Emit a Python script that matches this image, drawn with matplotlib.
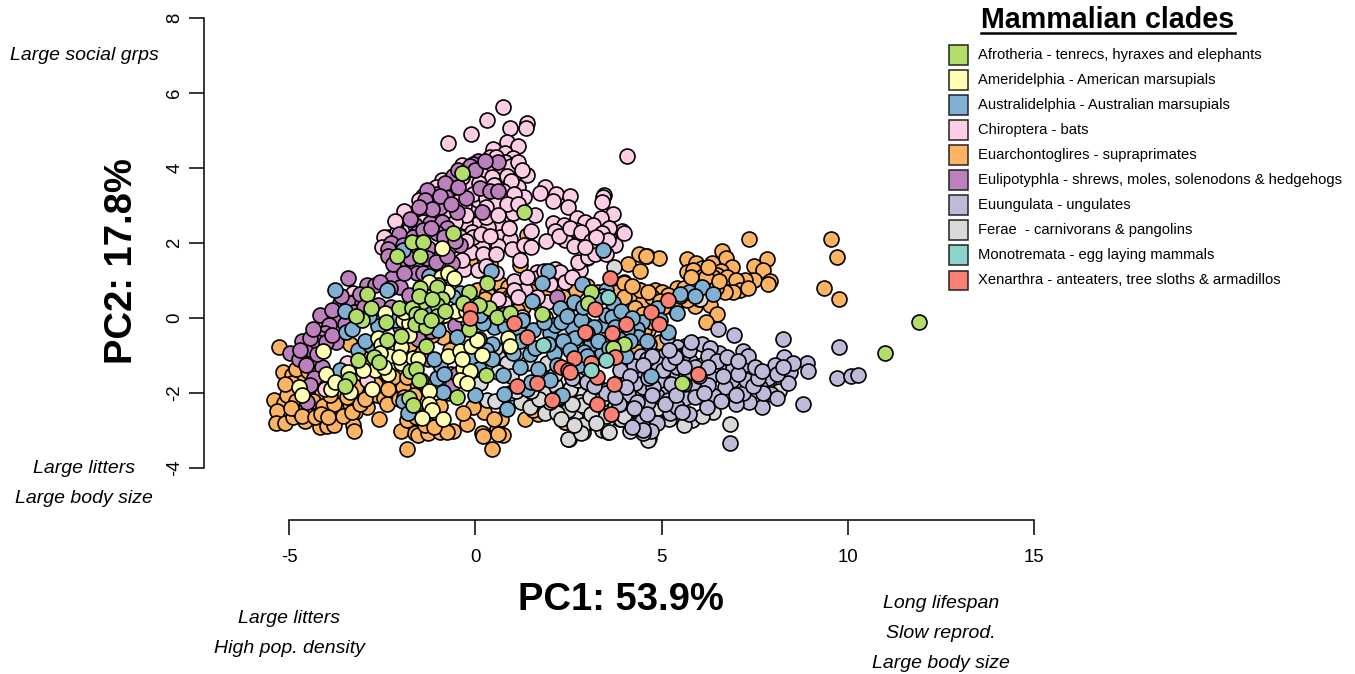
import numpy as np
import matplotlib
matplotlib.use("Agg")
import matplotlib.pyplot as plt
from matplotlib.patches import Rectangle

plt.rcParams["font.family"] = ["Liberation Sans", "DejaVu Sans"]
plt.rcParams["axes.unicode_minus"] = False

# --- Values (PC1, PC2) ---
euarchontoglires = [
    (7.36,2.10),(9.55,2.10),(9.72,1.62),(9.37,0.79),(9.76,0.52),(6.62,1.80),(7.84,1.58),(7.47,1.39),(6.72,1.59),(5.68,1.58),
    (5.93,1.46),(6.35,1.46),(6.88,1.37),(5.68,1.24),(6.08,1.34),(5.85,1.28),(6.12,1.12),(6.60,1.26),(6.48,1.15),(6.75,1.10),
    (6.39,1.10),(7.73,1.28),(7.47,1.01),(7.90,1.00),(7.87,0.92),(7.24,1.01),(6.99,1.01),(7.11,0.75),(7.33,0.79),(6.93,0.70),
    (6.70,0.70),(4.40,1.71),(4.60,1.66),(4.93,1.59),(4.09,1.44),(4.42,1.25),(3.99,0.95),(4.40,0.75),(4.83,0.75),(5.00,0.70),
    (5.41,0.81),(4.20,0.52),(4.51,0.45),(4.26,0.26),(3.93,0.28),(5.18,0.61),(5.90,0.32),(5.68,0.48),(6.30,0.35),(6.48,0.12),
    (6.19,-0.10),(4.74,0.57),(3.80,0.70),(2.50,0.97),(2.28,0.79),(4.16,-2.48),(4.38,-2.50),(2.41,-2.76),(4.51,-0.41),(4.65,-0.32),
    (4.29,-0.76),(1.38,2.21),(3.15,2.17),(4.58,1.66),(1.38,1.01),(2.23,0.79),(1.20,1.41),(-0.14,1.50),(0.39,1.46),(0.67,0.92),
    (0.89,0.84),(-5.26,-0.76),(-5.17,-1.43),(-5.40,-2.19),(-5.13,-2.26),(-5.33,-2.47),(-5.35,-2.81),(-5.11,-2.79),(-4.89,-2.63),(-4.58,-2.74),
    (-4.75,-2.45),(-4.44,-2.54),(-4.17,-2.90),(-4.03,-2.68),(-3.99,-2.88),(-3.80,-2.85),(-3.90,-2.41),(-3.63,-2.41),(-3.36,-2.30),(-2.91,-2.36),
    (-3.23,-2.50),(-3.29,-2.84),(-3.25,-3.01),(-2.59,-2.69),(-4.93,-1.52),(-4.71,-1.48),(-4.93,-1.74),(-5.06,-2.05),(-4.26,-2.19),(-4.12,-2.01),
    (-3.63,-2.10),(-3.08,-2.10),(-2.64,-2.05),(-2.46,-2.14),(-2.20,-1.79),(-1.71,-1.83),(-2.38,-2.28),(-1.98,-3.01),(-1.83,-3.48),(-1.62,-3.07),
    (-1.55,-3.12),(-1.26,-3.07),(-1.23,-2.79),(-0.90,-2.90),(-0.59,-3.01),(-0.23,-2.83),(0.17,-3.07),(0.22,-3.14),(0.46,-3.49),(0.58,-2.97),
    (0.74,-3.12),(0.69,-2.68),(0.23,-2.50),(-0.05,-2.36),(1.33,-2.69),(1.69,-2.56),(2.41,-2.76),(4.13,-2.45),(-1.84,-2.72),(-1.03,-2.54),
    (-1.57,-2.36),(-1.48,-2.10),(-1.93,-1.83),(-2.82,-1.56),(-4.62,-1.16),(-4.34,-1.08),(-0.86,-0.50),(-2.20,-1.56),(-1.84,-1.56),(0.04,0.75),
    (0.32,0.66),(0.71,0.61),(1.38,1.06),(2.23,1.24),(4.00,0.94),(4.42,0.75),(4.30,0.26),(4.52,-0.32),(1.29,0.30),(1.88,0.04),
    (1.11,0.21),(3.80,0.30),(-0.76,-2.01),(-0.32,-2.54),(-0.68,-0.85),
    (-4.80,-2.20),(-4.55,-2.35),(-4.35,-2.20),(-4.10,-2.35),(-3.80,-2.30),(-3.55,-2.60),(-3.30,-2.50),(-3.10,-2.30),(-4.95,-2.40),(-4.65,-2.60),
    (-4.30,-2.65),(-4.15,-2.55),(-3.95,-2.65),(-5.10,-1.75),(-4.80,-1.35),(-4.50,-1.40),(-3.90,-2.05),(-3.45,-2.10),(-3.20,-1.85),(-2.95,-2.15),
    (-2.70,-1.75),(-2.35,-1.90),(-2.05,-2.15),(-1.90,-2.10),(-1.65,-2.05),(-1.45,-1.65),(-1.60,-2.65),(-1.25,-2.45),(-0.95,-2.35),(-0.95,-3.05),
    (-0.75,-3.05),(-1.35,-2.85),(-1.10,-2.90),(0.50,-2.70),(0.60,-3.10),(1.55,-2.45),(2.10,-2.30),(2.75,-2.60),
    (0.90,0.55),(1.20,0.80),(1.60,0.75),(1.95,0.65),(2.35,0.55),(2.70,0.75),(3.00,0.85),(3.30,0.70),(4.00,0.55),(4.65,0.70),
    (4.20,0.85),(4.50,0.10),(4.95,0.45),(5.35,0.25),(5.60,0.80),(6.00,0.50),(6.45,0.80),(6.20,1.10),(6.55,1.00),(5.80,1.10),
    (6.25,1.35),(5.50,0.60),(5.05,0.30),(4.75,-0.10),(4.95,-0.65),(-0.35,-0.30),(0.25,0.50),(0.55,0.25),(1.75,0.35),(2.50,0.25),
    (3.85,-0.05),(-1.55,-0.85),(-1.75,-0.70),(-2.40,-1.50),(-2.90,-1.20),(-3.35,-0.70),(-3.00,-0.85),(-0.65,-1.50),(-1.15,-0.45),
]
ferae = [
    (3.73,1.37),(6.03,0.51),(6.84,-2.83),(2.53,-3.23),(2.92,-2.87),(2.88,-3.03),(3.39,-2.99),(3.57,-3.05),(4.15,-3.01),(4.67,-3.21),
    (3.89,-2.68),(3.53,-2.72),(2.54,-2.45),(2.68,-2.59),(2.95,-2.36),(5.81,-2.72),(6.39,-2.50),(5.05,-2.45),(3.62,-2.10),(3.17,-2.01),
    (2.82,-1.88),(2.54,-1.88),(2.82,-2.23),(8.09,-1.61),(0.62,-1.03),(0.85,-1.21),(0.31,-2.19),(0.53,-2.20),(1.24,-2.25),(1.46,-2.36),
    (1.87,-2.52),(2.50,-2.44),(2.19,-2.54),(2.90,-2.85),(2.50,-3.23),(2.85,-3.07),(3.60,-3.03),(3.90,-2.68),(2.14,-1.79),(2.55,-1.88),
    (2.86,-2.32),(3.26,-2.01),(1.83,-2.01),(0.93,-2.01),(0.53,-0.81),(-0.37,-0.32),(0.13,-1.74),(3.08,-2.10),(2.72,0.04),(3.52,-2.10),
    (4.64,-3.25),(3.17,-2.54),(1.38,-1.21),(1.92,-1.21),
    (3.40,-2.40),(3.10,-2.55),(3.50,-2.60),(2.25,-2.10),(2.60,-2.30),(2.00,-2.25),(1.70,-2.15),(1.50,-1.95),(1.10,-1.95),(0.60,-1.45),
    (0.30,-1.05),(0.95,-1.55),(1.75,-1.55),(2.15,-1.50),(2.75,-1.65),(3.30,-1.85),(2.30,-2.70),(2.65,-2.85),(3.25,-2.80),(3.75,-2.35),
    (4.00,-2.60),(4.30,-2.85),(5.50,-2.60),(5.60,-2.85),(6.10,-2.60),(5.20,-2.70),(4.90,-2.40),(2.95,-0.15),(2.40,-0.40),(3.40,-2.15),
    (8.25,-1.70),(8.15,-1.95),
]
euungulata = [
    (6.51,-0.29),(6.95,-0.45),(8.27,-0.55),(9.77,-0.77),(8.90,-1.21),(8.94,-1.40),(9.70,-1.59),(10.09,-1.54),(10.27,-1.52),(8.81,-2.28),
    (6.84,-3.34),(8.29,-1.05),(8.05,-1.25),(8.45,-1.45),(8.39,-1.72),(7.87,-1.59),(7.46,-1.49),(7.93,-2.03),(8.09,-2.14),(7.71,-2.36),
    (7.35,-2.23),(7.20,-1.99),(7.00,-2.30),(6.89,-1.64),(7.18,-1.25),(7.20,-0.87),(7.33,-1.01),(6.70,-1.15),(6.55,-0.94),(6.08,-0.70),
    (6.30,-0.81),(5.63,-0.75),(5.41,-0.76),(5.09,-0.99),(5.76,-1.14),(5.59,-0.99),(6.08,-1.25),(6.57,-1.39),(6.70,-1.83),(6.06,-1.95),
    (6.42,-2.07),(6.21,-2.36),(5.75,-2.57),(5.63,-2.14),(5.14,-1.92),(4.87,-2.08),(5.18,-2.19),(5.23,-2.52),(4.62,-2.23),(4.87,-2.79),
    (4.47,-2.75),(4.71,-3.00),(4.51,-3.06),(4.11,-2.03),(4.29,-1.72),(3.89,-2.29),(4.24,-1.27),(4.02,-1.25),(4.44,-1.01),(4.87,-1.21),
    (5.18,-1.37),(5.41,-1.52),(4.67,-0.69),(5.14,-0.50),(3.53,-1.92),(2.99,-1.70),(2.59,-1.61),(4.51,-1.83),(4.96,-1.65),(7.28,-1.65),
    (7.64,-1.83),(6.30,-1.56),(5.85,-1.74),(7.73,-2.01),(8.54,-1.21),(4.78,-1.83),(5.41,-2.36),(6.93,-1.34),(5.41,-1.30),(4.60,-1.08),
    (6.26,-1.79),(4.42,-1.48),(5.05,-1.39),(5.67,-1.48),(4.26,-1.28),(3.88,-1.39),(4.30,-1.72),(4.11,-2.03),(3.87,-2.30),(4.49,-2.99),
    (3.00,-1.70),(4.65,-2.23),(3.52,-2.00),
    (5.40,-1.00),(5.75,-0.85),(5.90,-1.30),(6.25,-1.00),(6.50,-1.15),(6.00,-1.55),(5.20,-1.20),(5.60,-1.30),(4.75,-1.00),(4.50,-1.25),
    (4.15,-1.55),(3.75,-1.75),(4.65,-1.60),(5.25,-1.75),(5.60,-1.75),(5.90,-2.10),(6.15,-2.00),(6.65,-1.55),(7.05,-1.50),(7.45,-1.80),
    (7.60,-1.60),(7.00,-2.05),(6.60,-2.20),(5.10,-2.30),(5.40,-2.05),(5.55,-2.50),(4.60,-2.55),(4.35,-2.25),(4.75,-2.05),(4.05,-1.85),
    (3.75,-2.10),(4.25,-2.40),(4.20,-2.90),(5.35,-1.05),(5.80,-0.65),(5.20,-0.85),(6.75,-1.05),(7.05,-1.15),(7.50,-1.30),(8.10,-1.50),
    (8.25,-1.30),(7.70,-1.40),(6.25,-1.30),(3.20,-1.80),
]
chiroptera = [
    (0.74,5.64),(0.31,5.28),(-0.12,4.92),(-0.72,4.68),(0.93,5.08),(1.38,5.21),(1.36,5.08),(4.08,4.33),(0.84,4.70),(1.14,4.59),
    (0.48,4.52),(0.80,4.39),(1.02,4.26),(0.40,4.30),(0.80,4.17),(0.35,3.99),(0.62,3.88),(1.07,3.86),(1.38,3.81),(-0.05,3.77),
    (0.31,3.70),(-0.88,3.68),(-0.36,4.08),(0.89,3.55),(1.14,3.50),(1.87,3.50),(1.74,3.34),(2.16,3.32),(2.08,3.13),(2.54,3.25),
    (2.49,2.95),(3.46,3.28),(3.42,3.24),(3.39,3.10),(1.32,3.24),(0.93,3.24),(0.49,2.95),(0.71,2.92),(1.02,2.79),(1.60,2.75),
    (-1.59,2.82),(-0.14,2.88),(3.69,2.77),(3.38,2.66),(2.72,2.66),(2.95,2.57),(2.08,2.54),(2.37,2.48),(3.17,2.48),(0.62,2.54),
    (0.04,2.52),(0.35,2.44),(-0.27,2.57),(2.70,2.35),(2.14,2.33),(1.50,2.33),(3.42,2.28),(3.78,2.28),(3.93,2.32),(3.58,2.39),
    (-0.10,2.30),(0.67,2.17),(0.93,2.11),(1.89,2.05),(2.41,2.08),(2.65,1.93),(0.17,1.90),(0.62,1.93),(0.99,1.83),(-0.12,1.75),
    (0.22,1.72),(0.55,1.71),(1.20,1.55),(3.75,1.95),(3.00,1.59),(2.79,1.48),(2.81,1.28),(-0.30,1.32),(0.08,1.28),(1.65,1.24),
    (2.32,1.15),(2.14,1.31),(1.04,0.99),(1.65,1.06),(-1.26,1.37),(-2.32,2.17),(-1.84,2.57),(-1.39,3.25),(0.08,3.15),(0.67,3.59),
    (-0.23,3.41),(-1.66,2.66),(-2.11,2.30),(-0.05,2.17),(-0.41,2.17),(0.98,0.57),(1.33,0.75),(1.92,0.44),(0.76,0.39),(1.25,0.04),
    (-3.27,0.66),(-2.91,-1.65),(-4.03,-1.88),(-3.45,-1.21),(2.77,1.50),(3.03,1.64),(3.39,2.28),(3.98,2.26),(3.57,2.08),(3.21,1.72),
    (2.28,1.24),
    (0.10,4.15),(0.25,4.05),(0.45,4.12),(0.55,4.30),(0.70,4.05),(0.95,4.05),(1.15,4.15),(1.25,3.95),(0.15,3.85),(0.45,3.75),
    (0.85,3.80),(0.95,3.65),(-0.20,3.60),(0.10,3.60),(0.50,3.55),(0.75,3.40),(1.05,3.30),(-0.60,3.60),(-0.35,3.75),(-0.75,3.40),
    (-1.05,3.50),(-0.50,3.30),(-0.05,3.30),(0.30,3.20),(0.55,3.10),(0.85,3.05),(1.15,3.05),(-1.50,3.15),(-1.25,3.30),(-1.00,3.10),
    (-0.70,3.00),(-0.30,3.00),(0.30,2.95),(-1.40,2.85),(-1.10,2.80),(-0.75,2.75),(-0.25,2.75),(0.30,2.70),(0.60,2.75),(-1.75,2.40),
    (-1.40,2.55),(-1.05,2.45),(-0.55,2.55),(0.15,2.25),(0.40,2.20),(-0.25,2.05),(-0.60,1.95),(0.90,2.40),(1.30,1.95),(1.50,1.90),
    (2.25,2.20),(2.55,2.40),(2.85,2.30),(3.10,2.05),(3.25,2.15),(2.95,1.90),(3.50,1.70),(-1.90,2.85),(-2.15,2.60),(-2.45,2.15),
    (-2.50,1.90),(-1.50,1.50),(-0.90,1.35),(-0.35,1.55),(0.30,1.40),(0.55,1.20),(1.40,1.10),(1.85,1.25),(2.00,0.90),(2.40,0.95),
    (2.60,1.10),(1.05,0.75),(1.65,0.55),(0.60,0.50),(1.15,0.55),
]
eulipotyphla = [
    (0.08,4.20),(0.62,4.17),(-0.59,3.79),(-0.63,3.46),(0.13,3.46),(0.39,3.39),(0.62,3.39),(-1.04,3.32),(-0.78,3.22),(-0.26,3.21),
    (-1.23,3.06),(-0.94,2.97),(-0.48,2.83),(0.17,2.83),(-1.21,2.54),(-1.61,2.48),(-0.90,2.57),(-0.77,2.39),(-2.05,2.23),(-2.26,2.00),
    (-2.33,1.83),(-0.41,1.95),(-0.92,1.72),(-1.26,1.86),(-1.91,1.44),(-1.57,1.35),(-0.63,1.46),(-2.24,1.06),(-3.41,1.06),(-1.57,2.26),
    (-1.04,2.26),(-1.66,2.17),(-0.05,4.12),(-1.30,3.41),(-2.91,0.88),(-2.69,0.88),(-2.02,0.84),(-4.16,0.08),(-3.73,0.04),(-3.93,-0.19),
    (-4.04,-0.41),(-4.18,-0.54),(-3.73,-0.63),(-4.66,-0.61),(-4.96,-0.94),(-4.72,-1.09),(-4.39,-0.85),(-4.12,-1.30),(-4.34,-1.59),(-4.43,-1.79),
    (-4.52,-2.25),(-3.27,0.44),(-3.63,0.39),(-1.26,-1.10),(-0.63,-1.79),(2.20,0.57),(-1.79,0.61),(-1.57,1.19),(-0.55,-0.19),(-2.02,-0.23),
    (-0.50,-1.48),(-1.30,0.12),(-3.85,0.21),(-3.36,0.39),(-3.05,0.39),(-4.26,-0.63),(-4.44,-0.54),
    (-0.15,4.05),(0.00,3.95),(0.25,4.18),(-0.45,3.95),(-0.80,3.60),(-0.45,3.50),(-0.95,3.25),(-1.35,3.15),(-1.15,2.90),(-0.65,3.05),
    (-1.50,2.95),(-1.75,2.65),(-1.40,2.35),(-1.20,2.40),(-0.85,2.15),(-0.55,2.05),(-1.95,1.95),(-2.35,1.65),(-2.20,1.45),(-1.75,1.60),
    (-1.30,1.60),(-1.05,1.50),(-0.75,1.65),(-1.40,1.20),(-1.90,1.20),(-2.55,0.95),(-2.30,0.80),(-1.20,0.65),(-3.10,0.65),(-3.60,0.60),
    (-3.25,0.15),(-3.50,-0.15),(-3.00,0.30),(-4.00,-0.65),(-4.55,-1.25),(-4.70,-0.85),(-4.35,-0.30),(-4.25,-0.95),(-3.85,-0.45),(-2.60,0.35),
    (-2.25,0.30),(-1.80,0.05),(-1.55,-0.55),(-1.20,-0.35),(-0.90,0.05),(-0.30,-1.00),
]
australidelphia = [
    (-1.93,1.81),(-1.24,1.12),(0.41,1.25),(1.94,1.25),(1.78,0.94),(3.42,1.81),(2.86,0.91),(-3.77,0.75),(-2.38,0.75),(-3.50,0.19),
    (-3.19,0.04),(-2.42,-0.14),(-3.48,-0.38),(-3.15,-0.85),(-2.83,-0.72),(-3.63,-1.39),(-1.93,-2.20),(-1.81,-2.54),(-0.86,-1.96),(-1.03,-1.61),
    (-0.94,-1.25),(-0.01,-2.05),(0.75,-1.52),(0.78,-2.03),(0.85,-2.43),(1.20,-1.30),(1.68,-1.36),(1.47,-0.96),(2.11,-0.92),(0.46,-0.68),
    (0.49,-0.23),(0.22,-0.14),(1.52,0.46),(2.27,0.26),(2.65,0.44),(3.52,0.75),(2.00,-0.41),(2.59,-0.23),(2.68,-0.54),(3.08,-0.66),
    (3.39,-0.90),(3.44,-0.19),(4.34,-0.32),(4.47,-0.10),(4.72,-1.55),(2.32,-2.05),(2.78,-1.25),(1.38,-1.88),(0.13,0.08),(3.52,0.08),
    (3.93,-0.05),(2.14,-0.19),(1.56,-0.32),(-0.41,0.66),(-1.26,0.84),(-0.99,-0.32),(-0.50,-0.50),(0.30,-0.85),(-0.05,-1.03),(1.02,-0.94),
    (5.74,0.70),(6.10,0.84),(6.37,0.64),(5.42,0.14),(5.18,-0.36),(4.87,0.26),(4.33,-0.30),(4.38,-0.50),(3.10,-0.68),(2.92,-0.90),
    (3.44,0.59),(3.71,0.39),(3.66,0.04),(4.07,-0.32),
    (0.80,-0.20),(1.15,-0.35),(1.85,-0.10),(2.30,-0.10),(2.45,0.05),(2.85,-0.05),(3.20,-0.25),(3.75,-0.25),(3.85,-0.55),(4.15,-0.60),
    (3.00,-0.40),(3.30,-0.60),(2.35,-0.60),(1.95,-0.70),(1.60,-0.80),(1.20,-0.60),(2.90,0.30),(3.25,0.50),(3.90,0.20),(4.20,0.00),
    (3.00,-1.00),(3.60,-0.80),(4.05,-1.00),(2.55,-0.85),(0.80,0.10),(1.25,-0.05),(-2.95,-0.60),(-2.60,-0.20),(-2.85,0.05),(-3.30,-0.30),
    (-2.15,-0.05),(-1.15,0.15),(-0.20,-0.10),(0.10,-0.55),(0.45,-1.10),(0.10,-1.35),(0.00,0.40),(-0.60,0.55),(5.50,0.65),(5.90,0.60),
    (4.60,-0.60),(4.95,-0.05),(-1.10,-1.10),(-0.85,-1.50),(2.00,-1.65),(2.20,-1.25),(1.50,-1.70),
]
ameridelphia = [
    (-0.90,1.88),(-0.92,1.10),(-0.72,1.21),(-0.56,1.06),(-1.17,0.88),(-0.99,0.88),(-2.42,0.14),(-1.17,0.84),(-1.93,-0.05),(-1.79,-0.14),
    (-0.85,0.08),(-0.76,0.26),(-0.41,0.12),(-4.08,-0.87),(-2.61,-0.54),(-2.52,-0.72),(-1.78,-0.45),(-1.98,-0.76),(-2.32,-1.01),(-2.56,-0.94),
    (-1.98,-1.21),(-1.68,-1.06),(-2.69,-1.39),(-3.02,-1.39),(-2.35,-1.48),(-3.41,-1.43),(-4.01,-1.48),(-3.86,-1.88),(-3.77,-1.70),(-3.37,-1.96),
    (-2.78,-1.90),(-4.73,-1.85),(-4.66,-2.05),(-1.24,-1.94),(-1.23,-2.28),(-1.17,-2.45),(-1.42,-2.66),(-0.87,-2.70),(-0.72,-1.01),(-0.41,-0.88),
    (-0.12,-0.75),(0.06,-0.59),(0.17,-0.99),(-0.32,-1.32),(-0.14,-1.40),(-0.41,-1.65),(-0.21,-1.74),(0.89,-0.54),(0.93,-0.75),
    (-1.55,-1.10),(-2.05,-1.05),(-2.45,-1.30),(-1.25,0.95),(-0.75,0.70),(-1.00,0.60),(-0.55,0.20),(-0.25,0.20),(-1.90,0.15),(-0.35,-1.10),
]
afrotheria = [
    (-0.36,3.86),(1.31,2.82),(-0.59,2.28),(-1.53,1.90),(-1.71,2.04),(-1.39,2.04),(-2.11,1.66),(-1.48,1.66),(-1.48,0.79),(-1.04,0.84),
    (-0.90,0.52),(-2.91,0.64),(-1.44,0.44),(-0.18,0.70),(0.32,0.94),(-2.79,0.28),(-2.06,0.26),(-1.71,0.26),(-1.60,0.12),(-1.04,0.35),
    (-1.04,0.05),(-3.05,-0.05),(-1.63,-0.16),(-1.33,-0.25),(0.38,0.28),(0.59,0.04),(0.93,0.14),(1.78,0.12),(-0.32,0.39),(-0.18,-0.30),
    (3.11,0.70),(3.04,0.39),(-2.38,-0.59),(-1.99,-0.48),(-1.33,-0.75),(3.99,-0.69),(3.71,-0.81),(-3.16,-1.12),(-2.72,-1.05),(-2.58,-1.16),
    (-1.76,-1.41),(-1.58,-1.37),(-3.38,-1.63),(-3.50,-1.81),(0.29,-1.52),(-0.48,-2.10),(-1.79,-2.14),(-1.68,-2.32),(5.54,-1.72),(11.92,-0.11),
    (11.00,-0.92),
    (-1.50,0.60),(-1.15,0.50),(-0.80,0.20),(-1.45,0.05),(-3.20,0.05),(-2.40,-0.10),(-1.20,-0.05),(0.10,0.35),(-1.50,-1.65),
]
xenarthra = [
    (-0.14,0.25),(-0.14,-0.01),(1.04,-0.14),(1.40,-0.50),(2.94,-0.36),(3.21,0.25),(3.66,-0.41),(4.06,-0.16),(4.71,0.17),(4.92,-0.16),
    (2.65,-1.06),(2.30,-1.30),(2.50,-1.39),(3.12,-1.21),(3.26,-1.56),(3.75,-1.05),(1.11,-1.80),(1.65,-1.74),(2.07,-2.19),(3.26,-2.29),
    (3.65,-2.57),(3.73,-1.77),(3.62,1.06),(5.18,0.48),(2.54,-1.43),(5.99,-1.50),
]
monotremata = [(3.57,0.57),(3.50,-1.13),(3.12,-1.39),(1.83,-0.72)]

clade_labels = [
    "Afrotheria - tenrecs, hyraxes and elephants",
    "Ameridelphia - American marsupials",
    "Australidelphia - Australian marsupials",
    "Chiroptera - bats",
    "Euarchontoglires - supraprimates",
    "Eulipotyphla - shrews, moles, solenodons & hedgehogs",
    "Euungulata - ungulates",
    "Ferae  - carnivorans & pangolins",
    "Monotremata - egg laying mammals",
    "Xenarthra - anteaters, tree sloths & armadillos",
]
clade_colors = ["#B3DE69", "#FFFFB3", "#80B1D3", "#FCCDE5", "#FDB462",
                "#BC80BD", "#BEBADA", "#D9D9D9", "#8DD3C7", "#FB8072"]

# drawing order, bottom to top: (points, index into clade_colors)
layers = [
    (euarchontoglires, 4), (ferae, 7), (euungulata, 6), (chiroptera, 3), (eulipotyphla, 5),
    (australidelphia, 2), (ameridelphia, 1), (afrotheria, 0), (xenarthra, 9), (monotremata, 8),
]

x_ticks = [-5, 0, 5, 10, 15]
y_ticks = [-4, -2, 0, 2, 4, 6, 8]

W, H = 1355, 674
fig = plt.figure(figsize=(W / 100, H / 100), dpi=100)
ax = fig.add_axes([0, 0, 1, 1])

# --- The axes fill the figure, limits chosen so the ticks land on the right pixels ---
xs = 745 / 20
ys = 450 / 12
ax.set_xlim(-5 - 289 / xs, 15 + (W - 1034) / xs)
ax.set_ylim(8 - (H - 18) / ys, 8 + 18 / ys)
ax.patch.set_visible(False)

for pts, ci in layers:
    arr = np.array(pts)
    ax.scatter(arr[:, 0], arr[:, 1], s=116, c=clade_colors[ci], edgecolors="black",
               linewidths=1.2, clip_on=False)

ax.spines["top"].set_visible(False)
ax.spines["right"].set_visible(False)
ax.spines["left"].set_position(("data", -5 + (204 - 289) / xs))
ax.spines["bottom"].set_position(("data", 8 - (520 - 18) / ys))
ax.spines["left"].set_bounds(-4, 8)
ax.spines["bottom"].set_bounds(-5, 15)
ax.spines["left"].set_linewidth(1.1)
ax.spines["bottom"].set_linewidth(1.1)
ax.set_xticks(x_ticks)
ax.set_yticks(y_ticks)
ax.tick_params(length=11, width=1.1, labelsize=13.4)
ax.tick_params(axis="x", pad=10)
ax.tick_params(axis="y", pad=4)
plt.setp(ax.get_yticklabels(), rotation=90, va="center")


def put(px, py, s, **kw):
    fig.text(px / W, 1 - py / H, s, ha="center", va="center", **kw)


put(122, 261, "PC2: 17.8%", fontsize=27.5, fontweight="bold", rotation=90)
put(621, 600, "PC1: 53.9%", fontsize=27.5, fontweight="bold")

notes = [
    (84, 55.5, "Large social grps"), (84, 468.5, "Large litters"), (84, 498.5, "Large body size"),
    (289, 618.5, "Large litters"), (289, 648.5, "High pop. density"),
    (941, 603.5, "Long lifespan"), (941, 633.5, "Slow reprod."), (941, 663.5, "Large body size"),
]
for nx, ny, s in notes:
    put(nx, ny, s, fontsize=14, style="italic")

# --- Legend ---
put(1108, 20.5, "Mammalian clades", fontsize=20.6, fontweight="bold")
fig.add_artist(plt.Line2D([981 / W, 1235 / W], [1 - 32.5 / H, 1 - 32.5 / H], color="black", lw=1.8))
for i, (lab, col) in enumerate(zip(clade_labels, clade_colors)):
    cy = 55 + i * 25
    fig.add_artist(Rectangle((949.5 / W, 1 - (cy + 9.5) / H), 19 / W, 19 / H, transform=fig.transFigure,
                             facecolor=col, edgecolor="#222222", linewidth=1.1))
    fig.text(978 / W, 1 - cy / H, lab, ha="left", va="center", fontsize=10.62)

fig.savefig("out.png", dpi=100)
plt.close(fig)
